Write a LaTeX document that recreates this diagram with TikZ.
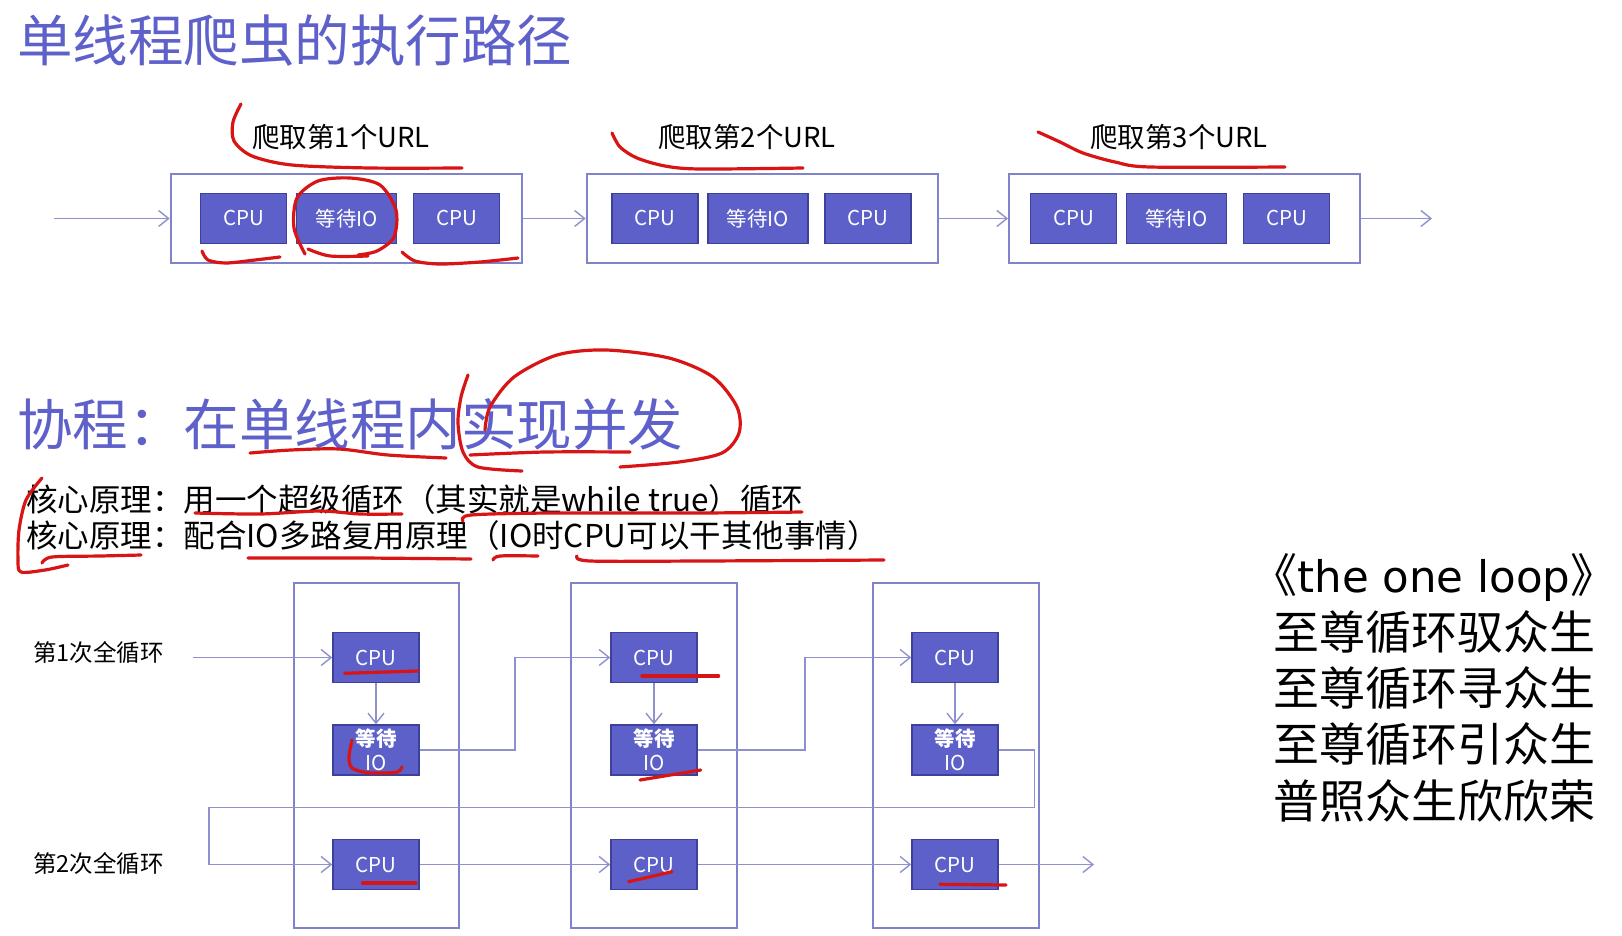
\documentclass[tikz,border=0pt]{standalone}
\usepackage{fontspec}
\setmainfont{Noto Sans CJK SC}
\newfontfamily\loopfont{DejaVu Sans}
\usepackage{tikz}
\usetikzlibrary{arrows.meta}
\definecolor{titlecol}{HTML}{5F61CB}
\definecolor{boxfill}{HTML}{5C60C8}
\definecolor{boxline}{HTML}{3E4199}
\definecolor{framecol}{HTML}{7F83C9}
\definecolor{arrowcol}{HTML}{8E91CD}
\definecolor{penred}{HTML}{D81414}
\tikzset{
  titletext/.style={text=titlecol, inner sep=0pt, font=\fontsize{55.5}{60}\selectfont},
  urltext/.style={inner sep=0pt, font=\fontsize{27.5}{30}\selectfont},
  looptext/.style={inner sep=0pt, font=\fontsize{23.5}{26}\selectfont},
  coretext/.style={inner sep=0pt, font=\fontsize{31.5}{36}\selectfont},
  urlbox/.style={draw=framecol, line width=2pt, minimum width=351pt, minimum height=89pt},
  colbox/.style={draw=framecol, line width=2pt, minimum width=165.5pt, minimum height=344.5pt},
  cpubox/.style={draw=boxline, fill=boxfill, line width=1.5pt, text=white, inner sep=0pt,
    minimum width=86pt, minimum height=50pt, font=\fontsize{20.5}{24}\selectfont},
  waitbox/.style={cpubox, minimum width=100pt},
  iobox/.style={cpubox, align=center},
  flowline/.style={draw=arrowcol, line width=1.4pt, -{Straight Barb[length=10pt,width=16pt]}},
  redpen/.style={draw=penred, line width=3.2pt, line cap=round, line join=round},
}

\begin{document}
\begin{tikzpicture}[x=1pt,y=-1pt]
    \fill[white] (0,0) rectangle (1622,935);
    \useasboundingbox (0,0) rectangle (1622,935);

    \node[titletext, anchor=west] (title1) at (17,41) {单线程爬虫的执行路径};

    % one crawler, three urls
    \node[urlbox] (url1) at (346.2,218.5) {};
    \node[urlbox] (url2) at (762.2,218.5) {};
    \node[urlbox] (url3) at (1184.5,218.5) {};
    \node[urltext] (lab1) at (341,137) {爬取第1个URL};
    \node[urltext] (lab2) at (747,137) {爬取第2个URL};
    \node[urltext] (lab3) at (1179,137) {爬取第3个URL};

    \node[cpubox] (t1a) at (243.7,218.3) {CPU};
    \node[waitbox] (t1b) at (346.7,218.3) {等待IO};
    \node[cpubox] (t1c) at (456.7,218.3) {CPU};
    \node[cpubox] (t2a) at (655,218.3) {CPU};
    \node[waitbox] (t2b) at (757.8,218.3) {等待IO};
    \node[cpubox] (t2c) at (868,218.3) {CPU};
    \node[cpubox] (t3a) at (1073.7,218.3) {CPU};
    \node[waitbox] (t3b) at (1176.3,218.3) {等待IO};
    \node[cpubox] (t3c) at (1286.7,218.3) {CPU};

    \coordinate (tin) at (54,218.5);
    \coordinate (tout) at (1432,218.5);
    \draw[flowline] (tin) -- (url1);
    \draw[flowline] (url1) -- (url2);
    \draw[flowline] (url2) -- (url3);
    \draw[flowline] (url3) -- (tout);

    % coroutines
    \node[titletext, anchor=west] (title2) at (17,424) {协程：在单线程内实现并发};
    \node[coretext, anchor=west] (core1) at (26,500) {核心原理：用一个超级循环（其实就是while true）循环};
    \node[coretext, anchor=west] (core2) at (26,536) {核心原理：配合IO多路复用原理（IO时CPU可以干其他事情）};

    \node[colbox] (col1) at (376.5,755.7) {};
    \node[colbox] (col2) at (654.2,755.7) {};
    \node[colbox] (col3) at (955.8,755.7) {};

    \node[looptext, anchor=west] (round1) at (33,653) {第1次全循环};
    \node[looptext, anchor=west] (round2) at (33,864) {第2次全循环};

    \node[cpubox] (p1cpu) at (376,657.5) {CPU};
    \node[iobox] (p1io) at (376,750) {\bfseries 等待\\IO};
    \node[cpubox] (p1cpuB) at (376,864.5) {CPU};
    \node[cpubox] (p2cpu) at (654,657.5) {CPU};
    \node[iobox] (p2io) at (654,750) {\bfseries 等待\\IO};
    \node[cpubox] (p2cpuB) at (654,864.5) {CPU};
    \node[cpubox] (p3cpu) at (955,657.5) {CPU};
    \node[iobox] (p3io) at (955,750) {\bfseries 等待\\IO};
    \node[cpubox] (p3cpuB) at (955,864.5) {CPU};

    \coordinate (bin) at (193,657.5);
    \coordinate (jog1) at (515,700);
    \coordinate (jog2) at (805,700);
    \coordinate (loopR) at (1034.5,807.5);
    \coordinate (loopL) at (209,807.5);
    \coordinate (bout) at (1094,864.5);

    \draw[flowline] (bin) -- (p1cpu);
    \draw[flowline] (p1cpu) -- (p1io);
    \draw[flowline] (p1io.east) -| (jog1) |- (p2cpu.west);
    \draw[flowline] (p2cpu) -- (p2io);
    \draw[flowline] (p2io.east) -| (jog2) |- (p3cpu.west);
    \draw[flowline] (p3cpu) -- (p3io);
    \draw[flowline] (p3io.east) -| (loopR) -- (loopL) |- (p1cpuB.west);
    \draw[flowline] (p1cpuB) -- (p2cpuB);
    \draw[flowline] (p2cpuB) -- (p3cpuB);
    \draw[flowline] (p3cpuB) -- (bout);

    \node[align=center, inner sep=0pt, font=\fontsize{46}{56.3}\selectfont] (poem) at (1434,688)
      {《{\loopfont\fontsize{43.5}{56.3}\selectfont the one loop}》\\至尊循环驭众生\\至尊循环寻众生\\至尊循环引众生\\普照众生欣欣荣};

    % red marks
    \draw[redpen] plot[smooth] coordinates {(241,104) (233,122) (234,141) (252,156) (292,165) (370,168) (462,168)};
    \draw[redpen] plot[smooth] coordinates {(202,251) (208,260) (226,263) (255,260) (280,257)};
    \draw[redpen] plot[smooth] coordinates {(305,254) (294,228) (297,198) (318,181) (350,178) (380,185) (396,210) (394,237) (377,251) (358,255)};
    \draw[redpen] plot[smooth] coordinates {(308,249) (330,256) (368,256)};
    \draw[redpen] plot[smooth] coordinates {(402,252) (415,261) (440,264) (480,262) (518,258)};
    \draw[redpen] plot[smooth] coordinates {(612,133) (620,147) (637,158) (665,166) (700,169) (803,168)};
    \draw[redpen] plot[smooth] coordinates {(1038,132) (1060,142) (1083,153) (1115,162) (1150,167) (1285,167)};

    \draw[redpen] plot[smooth] coordinates {(250,453) (291,450) (339,449) (388,455) (446,458)};
    \draw[redpen] plot[smooth] coordinates {(468,375) (461,397) (458,423) (463,452) (478,467) (522,471)};
    \draw[redpen] plot[smooth] coordinates {(470,455) (545,452) (630,452)};
    \draw[redpen] plot[smooth] coordinates {(485,430) (490,407) (514,377) (557,355) (606,350) (669,358) (713,377) (737,407) (739,433) (722,453) (679,462) (620,467)};
    \draw[redpen] plot[smooth] coordinates {(42,478) (26,500) (19,530) (18,560) (21,572) (45,570) (68,565)};
    \draw[redpen] plot[smooth] coordinates {(195,513) (260,514) (320,511) (360,514) (402,514)};
    \draw[redpen] plot[smooth] coordinates {(463,521) (471,515) (550,513) (700,513) (802,512)};
    \draw[redpen] plot[smooth] coordinates {(42,563) (52,557) (100,556) (141,555)};
    \draw[redpen] plot[smooth] coordinates {(248,558) (360,558) (471,559)};
    \draw[redpen] plot[smooth] coordinates {(493,560) (500,556) (538,556)};
    \draw[redpen] plot[smooth] coordinates {(577,556) (590,561) (700,561) (884,560)};

    \draw[redpen] (344.6,673.3) -- (418,671);
    \draw[redpen] plot[smooth] coordinates {(352,740) (349,757) (352,768) (368,772.7) (396,772.3) (402,767)};
    \draw[redpen] (362.5,883) -- (416,883);
    \draw[redpen] (642,676) -- (718.6,676);
    \draw[redpen] (640,780) -- (700.7,770);
    \draw[redpen] (628.6,881.7) -- (672,871.7);
    \draw[redpen] (940,884.3) -- (1006,885);
  \end{tikzpicture}
\end{document}
